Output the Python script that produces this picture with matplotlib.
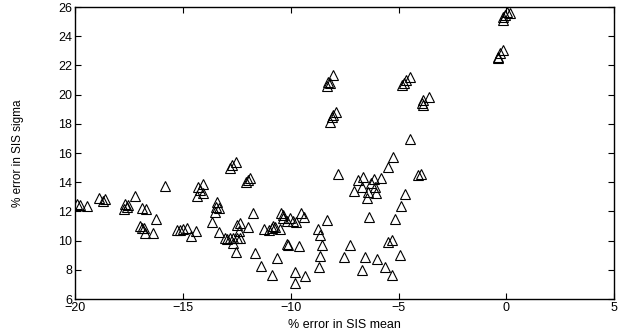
import matplotlib
matplotlib.use("Agg")
import matplotlib.pyplot as plt

plt.rcParams['font.family'] = ['Liberation Sans', 'DejaVu Sans']

mean_err = [
    -19.89, -19.77, -19.46,
    -18.87, -18.69, -18.59,
    -17.70, -17.60, -17.75, -17.55,
    -17.20, -16.91, -16.71, -15.83, -16.26,
    -17.00, -16.90, -16.80, -16.74, -16.37,
    -15.28, -15.13, -14.98, -14.82, -14.64, -14.39,
    -14.36, -14.20, -14.09, -14.08, -14.28,
    -13.65, -13.51, -13.43, -13.32, -13.47, -13.34,
    -13.04, -12.96, -12.81, -12.66, -12.50, -12.35,
    -12.66, -12.55, -12.50, -12.35, -12.42, -11.96,
    -12.81, -12.70, -12.55, -12.09, -11.96, -11.88,
    -11.73, -11.65, -11.39, -10.85, -10.65,
    -11.23, -11.03, -10.88, -10.80, -10.72, -10.52,
    -10.46, -10.34, -10.37, -10.19, -10.03, -9.88, -9.75, -9.53, -9.38,
    -10.19, -10.11, -9.60, -9.80, -9.32, -9.80,
    -8.75, -8.64, -8.56, -8.64, -8.71, -8.30,
    -7.83, -7.52, -7.24,
    -7.06, -6.86, -6.70, -6.63,
    -6.47, -6.40, -6.29, -6.16, -6.09, -6.04, -5.82,
    -6.36, -6.54, -6.68, -5.98, -5.65, -5.47, -5.31, -5.30, -5.16, -4.93,
    -5.50, -5.28, -4.88, -4.71, -4.08, -3.95,
    -8.02, -8.25, -8.33, -8.20,
    -7.89, -8.02, -8.09, -8.20,
    -4.46, -4.65, -4.74, -4.85,
    -3.61, -3.85, -3.92, -3.85,
    -4.46,
    -0.18, -0.29, -0.40, -0.37,
    0.02, 0.18, -0.17, -0.14, -0.06,
]

sigma_err = [
    12.49, 12.44, 12.39,
    12.90, 12.74, 12.85,
    12.50, 12.30, 12.20, 12.45,
    13.08, 12.21, 12.16, 13.76, 11.46,
    11.00, 10.90, 10.85, 10.50, 10.52,
    10.73, 10.73, 10.80, 10.90, 10.34, 10.66,
    13.05, 13.47, 13.88, 13.28, 13.65,
    11.30, 11.94, 12.62, 12.25, 12.32, 10.57,
    10.16, 10.12, 10.16, 10.16, 10.20, 10.20,
    9.81, 9.24, 11.07, 11.18, 10.66, 10.95,
    14.95, 15.18, 15.40, 14.03, 14.15, 14.27,
    11.87, 9.17, 8.26, 7.64, 8.79,
    10.79, 10.73, 10.84, 11.00, 10.91, 10.79,
    11.91, 11.75, 11.53, 11.34, 11.53, 11.36, 11.29, 11.91, 11.64,
    9.75, 9.70, 9.65, 7.87, 7.58, 7.08,
    10.77, 10.38, 9.70, 8.95, 8.21, 11.41,
    14.56, 8.90, 9.68,
    13.42, 14.15, 13.69, 14.34,
    12.90, 13.35, 13.92, 14.20, 13.65, 13.24, 14.31,
    11.64, 8.90, 7.99, 8.72, 8.21, 9.93, 10.04, 7.64, 11.48, 9.01,
    15.06, 15.75, 12.39, 13.19, 14.49, 14.56,
    21.32, 20.88, 20.59, 20.77,
    18.83, 18.60, 18.44, 18.14,
    21.23, 21.00, 20.82, 20.66,
    19.86, 19.63, 19.45, 19.29,
    16.94,
    23.05, 22.83, 22.60, 22.49,
    25.68, 25.61, 25.34, 25.11, 25.45,
]

x_ticks = [-20, -15, -10, -5, 0, 5]
y_ticks = [6, 8, 10, 12, 14, 16, 18, 20, 22, 24, 26]

fig = plt.figure(figsize=(6.33, 3.36), dpi=100)
ax = fig.add_axes([0.1185, 0.110, 0.852, 0.869])
ax.plot(mean_err, sigma_err, linestyle='none', marker='^', markersize=6.5,
        markerfacecolor='none', markeredgecolor='black', markeredgewidth=0.8)
ax.set_xlim(-20, 5)
ax.set_ylim(6, 26)
ax.set_xticks(x_ticks)
ax.set_yticks(y_ticks)
ax.set_xticklabels(['\u221220', '\u221215', '\u221210', '\u22125', '0', '5'])
ax.tick_params(direction='in', top=True, right=True, length=4, width=0.8,
               labelsize=9, pad=2)
for s in ax.spines.values():
    s.set_linewidth(1.0)
ax.set_xlabel('% error in SIS mean', fontsize=9, labelpad=4)
ax.set_ylabel('% error in SIS sigma', fontsize=8.5)
ax.yaxis.set_label_coords(-0.095, 0.5)
fig.savefig('out.png', dpi=100)
